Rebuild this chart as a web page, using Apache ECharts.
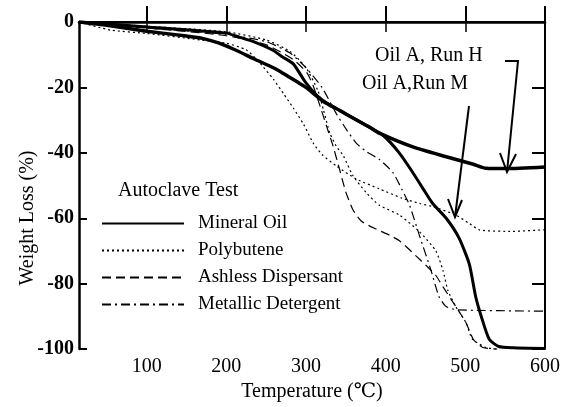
<!DOCTYPE html>
<html><head><meta charset="utf-8">
<script src="https://cdn.jsdelivr.net/npm/echarts@6/dist/echarts.min.js"></script>
<style>html,body{margin:0;padding:0;background:#fff}#c{width:563px;height:407px}</style>
</head><body><div id="c"></div>
<script>
const xTicks = [100, 200, 300, 400, 500, 600];
const topTicks = [100, 200, 300, 400, 500];
const yTicks = [-100, -80, -60, -40, -20, 0];
const seriesNames = ['Mineral Oil', 'Polybutene', 'Ashless Dispersant', 'Metallic Detergent'];

const mineralRunH = [[15,0],[50,-1],[100,-2.8],[150,-4.3],[170,-5],[190,-6.4],[210,-8.4],[235,-11.3],[259,-14],[268,-15.2],[292,-18.8],[300,-20],[322,-24.3],[342,-27],[351,-28.3],[380,-32.2],[392,-34],[434,-38.2],[476,-41.2],[510,-43.5],[526,-44.7],[551,-44.8],[600,-44.3]];
const mineralRunM = [[15,0],[100,-1.5],[200,-3.4],[217,-4.7],[234,-6],[259,-8.7],[270,-10.6],[284,-12.8],[299,-18.3],[313,-22.3],[325,-24.6],[342,-27],[380,-32.2],[397,-34.7],[417,-40],[434,-46],[447,-51],[459,-55.5],[476,-60],[492,-66],[505,-74],[513,-84],[520,-90],[530,-97],[542,-99.2],[560,-99.6],[600,-99.8]];
const polybuteneA = [[15,0],[55,-2.5],[100,-3.5],[168,-5.5],[200,-6.5],[225,-8.5],[240,-12],[259,-17.5],[272,-22],[284,-26.3],[297,-31.3],[309,-37],[320,-40.5],[338,-44],[363,-48],[392,-51],[420,-53.8],[443,-55.5],[460,-56.5],[488,-59],[505,-61.6],[518,-63.6],[560,-64],[600,-63.5]];
const polybuteneB = [[15,0],[100,-1.3],[200,-3],[250,-5.5],[280,-9],[300,-14],[315,-21],[322,-27],[330,-34],[338,-38],[347,-41],[359,-47],[375,-52],[392,-56],[417,-59],[442,-64],[463,-70],[472,-76],[478,-82],[488,-87],[501,-92],[509,-97],[526,-99.5],[540,-100]];
const ashless = [[15,0],[100,-1.8],[200,-4.2],[250,-7],[284,-11.5],[301,-15.5],[309,-19.5],[318,-26],[326,-32],[334,-38],[342,-45],[350,-52],[359,-57.5],[370,-61],[388,-63.3],[405,-65.2],[418,-67],[438,-71.5],[451,-74.5],[463,-77.5],[472,-81],[488,-87],[501,-92],[510,-97],[522,-99.5],[540,-100]];
const metallic = [[15,0],[100,-1.8],[200,-3.8],[250,-6],[280,-9.5],[300,-14],[320,-20],[338,-28],[351,-33],[363,-37],[375,-39.5],[392,-42],[409,-46],[420,-51],[430,-56],[442,-65],[457,-76],[467,-84],[476,-87],[490,-88],[600,-88.4]];

const FONT = '"Liberation Serif", "DejaVu Serif", serif';
const chart = echarts.init(document.getElementById('c'), null, {renderer: 'canvas'});

function lineSeries(name, data, width, type) {
  return {
    name: name, type: 'line', data: data, xAxisIndex: 0, yAxisIndex: 0,
    showSymbol: false, symbol: 'none', smooth: 0.2, animation: false,
    lineStyle: {color: '#000', width: width, type: type},
    itemStyle: {color: '#000'}
  };
}

chart.setOption({
  backgroundColor: '#fff',
  animation: false,
  grid: {left: 79, right: 17, top: 22, bottom: 50},
  xAxis: [{
    type: 'value', min: 15, max: 600, position: 'bottom',
    name: 'Temperature (℃)', nameLocation: 'middle', nameGap: 27,
    nameTextStyle: {fontFamily: FONT, fontSize: 20, color: '#000'},
    axisLine: {lineStyle: {color: '#000', width: 2.5}},
    axisTick: {inside: true, length: 16, lineStyle: {color: '#000', width: 2}, customValues: xTicks},
    axisLabel: {fontFamily: FONT, fontSize: 20, color: '#000', margin: 8, customValues: xTicks},
    splitLine: {show: false}
  }, {
    type: 'value', min: 15, max: 600, position: 'top',
    axisLine: {lineStyle: {color: '#000', width: 2}},
    axisTick: {inside: true, length: 10, lineStyle: {color: '#000', width: 1.5}, customValues: topTicks},
    axisLabel: {show: false},
    splitLine: {show: false}
  }],
  yAxis: [{
    type: 'value', min: -100, max: 0, interval: 20, position: 'left',
    axisLine: {lineStyle: {color: '#000', width: 2.5}},
    axisTick: {inside: true, length: 8, lineStyle: {color: '#000', width: 2}},
    axisLabel: {fontFamily: FONT, fontSize: 20, color: '#000', margin: 5, fontWeight: 'bold'},
    splitLine: {show: false}
  }, {
    type: 'value', min: -100, max: 0, interval: 20, position: 'right',
    axisLine: {lineStyle: {color: '#000', width: 2}},
    axisTick: {inside: true, length: 13, lineStyle: {color: '#000', width: 2}},
    axisLabel: {show: false},
    splitLine: {show: false}
  }],
  legend: {
    orient: 'vertical', left: 101, top: 214, padding: 0,
    itemWidth: 82, itemHeight: 14, itemGap: 8,
    data: seriesNames,
    itemStyle: {opacity: 0},
    textStyle: {fontFamily: FONT, fontSize: 19, color: '#000', padding: [0, 0, 0, 9]},
    selectedMode: false
  },
  graphic: [
    {type: 'text', left: 118, top: 181, style: {text: 'Autoclave Test', font: '20px ' + FONT, fill: '#000'}},
    {type: 'text', x: 28, y: 218, rotation: Math.PI / 2, style: {text: 'Weight Loss (%)', font: '20px ' + FONT, fill: '#000', align: 'center', verticalAlign: 'middle'}},
    {type: 'text', left: 375, top: 46, style: {text: 'Oil A, Run H', font: '20px ' + FONT, fill: '#000'}},
    {type: 'text', left: 362, top: 74, style: {text: 'Oil A,Run M', font: '20px ' + FONT, fill: '#000'}},
    {type: 'polyline', shape: {points: [[505, 61], [518, 61], [507, 172]]}, style: {stroke: '#000', lineWidth: 2, fill: null}},
    {type: 'polyline', shape: {points: [[500, 153], [507, 172], [516, 154]]}, style: {stroke: '#000', lineWidth: 2, fill: null}},
    {type: 'line', shape: {x1: 469, y1: 106, x2: 455, y2: 217}, style: {stroke: '#000', lineWidth: 2}},
    {type: 'polyline', shape: {points: [[448, 199], [455, 217], [462, 200]]}, style: {stroke: '#000', lineWidth: 2, fill: null}}
  ],
  series: [
    lineSeries('Mineral Oil', mineralRunH, 3.5, 'solid'),
    lineSeries('Mineral Oil', mineralRunM, 3, 'solid'),
    lineSeries('Polybutene', polybuteneA, 1.2, [2, 3]),
    lineSeries('Polybutene', polybuteneB, 1.2, [2, 3]),
    lineSeries('Ashless Dispersant', ashless, 1.2, [9, 5]),
    lineSeries('Metallic Detergent', metallic, 1.2, [9, 4, 2, 4])
  ]
});
</script></body></html>
